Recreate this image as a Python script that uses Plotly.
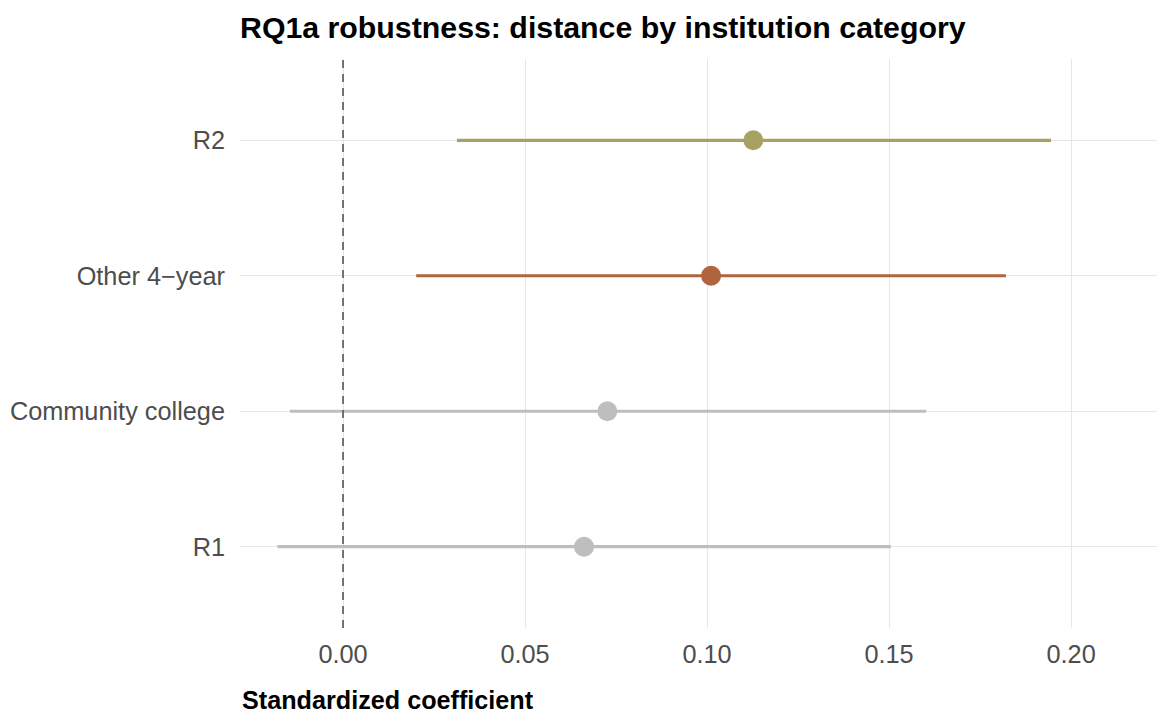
import plotly.graph_objects as go

# Institution categories (bottom to top) and model estimates with 95% intervals
categories = ["R1", "Community college", "Other 4\u2212year", "R2"]
estimates = [0.0662, 0.0726, 0.1011, 0.1127]
lower = [-0.0180, -0.0146, 0.0201, 0.0313]
upper = [0.1505, 0.1602, 0.1821, 0.1945]
colors = ["#BEBEBE", "#BEBEBE", "#B0653F", "#A9A164"]

x_ticks = [0.00, 0.05, 0.10, 0.15, 0.20]
x_tick_labels = ["0.00", "0.05", "0.10", "0.15", "0.20"]

FONT = "Liberation Sans, Arial, sans-serif"

fig = go.Figure()

# Confidence interval segments
for cat, lo, hi, col in zip(categories, lower, upper, colors):
    fig.add_trace(go.Scatter(
        x=[lo, hi], y=[cat, cat], mode="lines",
        line=dict(color=col, width=3.2),
        showlegend=False, hoverinfo="skip",
    ))

# Point estimates
fig.add_trace(go.Scatter(
    x=estimates, y=categories, mode="markers",
    marker=dict(color=colors, size=20, line=dict(width=0)),
    showlegend=False,
))

# Reference line at zero
fig.add_shape(
    type="line", xref="x", yref="paper", x0=0, x1=0, y0=0, y1=1,
    line=dict(color="#5E5E5E", width=1.7, dash="8px,6px"), layer="above",
)

fig.update_layout(
    width=1157, height=714,
    margin=dict(l=240, r=0, t=59, b=86),
    paper_bgcolor="white", plot_bgcolor="white",
    font=dict(family=FONT),
    title=dict(
        text="<b>RQ1a robustness: distance by institution category</b>",
        font=dict(family=FONT, size=30.3, color="#000000"),
        x=240 / 1157, xanchor="left", xref="container",
        y=1 - 27 / 714, yanchor="middle", yref="container",
    ),
    xaxis=dict(
        range=[-0.0283, 0.2236],
        tickvals=x_ticks, ticktext=x_tick_labels,
        showgrid=True, gridcolor="#E6E6E6", gridwidth=1.4,
        zeroline=False, showline=False, ticks="",
        tickfont=dict(family=FONT, size=25.3, color="#4D4D4D"),
        ticklabelstandoff=9,
    ),
    yaxis=dict(
        type="category", categoryorder="array", categoryarray=categories,
        range=[-0.6, 3.6],
        showgrid=True, gridcolor="#E6E6E6", gridwidth=1.4,
        zeroline=False, showline=False, ticks="",
        tickfont=dict(family=FONT, size=25.3, color="#4D4D4D"),
        ticklabelstandoff=14,
    ),
    annotations=[dict(
        text="<b>Standardized coefficient</b>",
        xref="paper", yref="paper", x=0, xanchor="left",
        y=-(700 - 628) / (628 - 59), yanchor="middle",
        showarrow=False,
        font=dict(family=FONT, size=25.2, color="#000000"),
    )],
)

fig.write_html("out.html")
